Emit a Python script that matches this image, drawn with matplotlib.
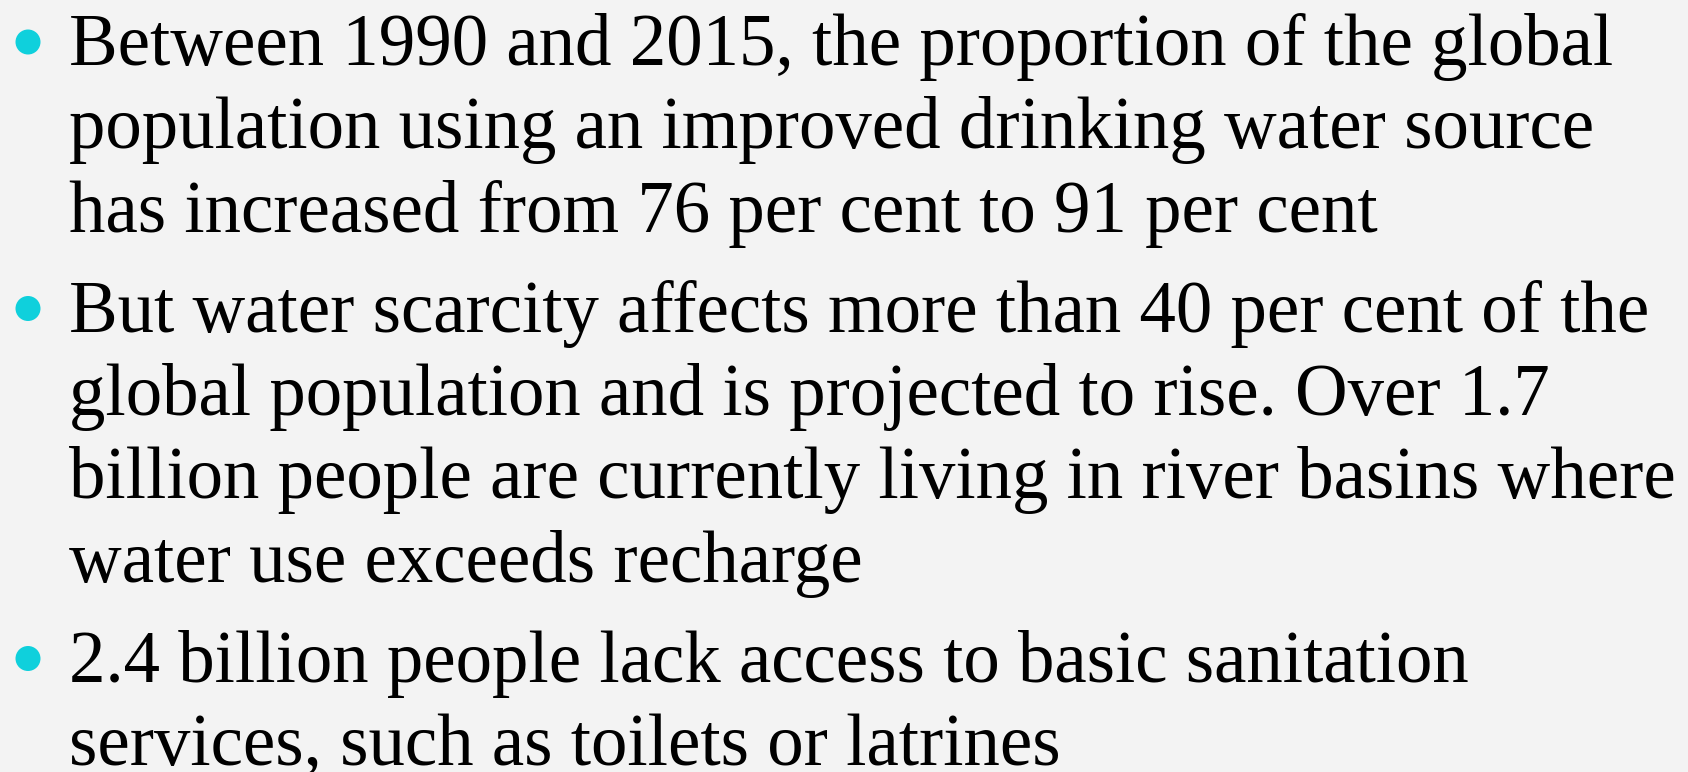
import matplotlib
matplotlib.use('Agg')
import matplotlib.pyplot as plt
from matplotlib.patches import Circle

# slide text, one list of wrapped lines per bullet
bullets = [
    ["Between 1990 and 2015, the proportion of the global",
     "population using an improved drinking water source",
     "has increased from 76 per cent to 91 per cent"],
    ["But water scarcity affects more than 40 per cent of the",
     "global population and is projected to rise. Over 1.7",
     "billion people are currently living in river basins where",
     "water use exceeds recharge"],
    ["2.4 billion people lack access to basic sanitation",
     "services, such as toilets or latrines"],
]

W, H = 1688, 772
bg = '#f3f3f3'
bullet_color = '#0fd0dc'

fig = plt.figure(figsize=(W / 100, H / 100), dpi=100, facecolor=bg)
ax = fig.add_axes([0, 0, 1, 1])
ax.set_xlim(0, W)
ax.set_ylim(H, 0)
ax.axis('off')
ax.set_facecolor(bg)

text_x = 69
bullet_x = 28
first_base = 65
line_step = 83.5
para_gap = 16
fsize = 52.5

y = first_base
for para in bullets:
    # bullet dot sits a bit above the first baseline
    ax.add_patch(Circle((bullet_x, y - 23), 12.5, color=bullet_color, lw=0))
    for line in para:
        ax.text(text_x, y, line, fontsize=fsize, family='Liberation Serif',
                color='black', va='baseline', ha='left')
        y += line_step
    y += para_gap

fig.savefig('out.png', dpi=100, facecolor=bg)
